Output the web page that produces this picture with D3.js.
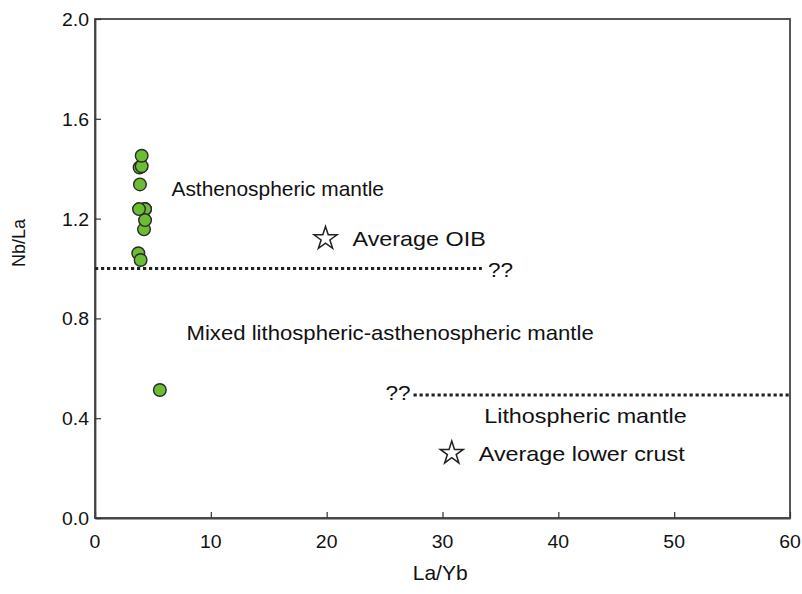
<!DOCTYPE html>
<html>
<head>
<meta charset="utf-8">
<script src="https://cdn.jsdelivr.net/npm/d3@7"></script>
<style>
  html, body { margin: 0; padding: 0; background: #fff; }
  svg { display: block; }
  text { font-family: "Liberation Sans", Arial, Helvetica, sans-serif; fill: #111; }
</style>
</head>
<body>
<svg id="chart" width="802" height="594"></svg>
<script>
// Sample ratios (La/Yb vs Nb/La)
const sampleLaYb = [4.23, 3.74, 4.32, 3.85, 4.03, 4.03, 3.88, 4.32, 3.8, 4.32, 3.94, 5.6];
const sampleNbLa = [1.157, 1.061, 1.238, 1.405, 1.41, 1.452, 1.337, 1.238, 1.238, 1.194, 1.034, 0.513];

// Reference compositions
const refNames = ["Average OIB", "Average lower crust"];
const refLaYb = [19.9, 30.8];
const refNbLa = [1.12, 0.26];

// Field boundaries (dotted), with uncertain ends marked "??"
const boundaryNbLa = [1.0, 0.493];
const boundaryFrom = [0, 27.5];
const boundaryTo = [33.4, 60];

// Field names and their anchor positions in data units
const fieldNames = ["Asthenospheric mantle", "Mixed lithospheric-asthenospheric mantle", "Lithospheric mantle"];
const fieldX = [6.6, 7.9, 33.6];
const fieldY = [1.32, 0.745, 0.41];

// Axis ticks
const xTicks = [0, 10, 20, 30, 40, 50, 60];
const yTicks = [0, 0.4, 0.8, 1.2, 1.6, 2.0];

const svg = d3.select("#chart");
const m = { left: 95, right: 790, top: 19, bottom: 518 };
const x = d3.scaleLinear().domain([0, 60]).range([m.left, m.right]);
const y = d3.scaleLinear().domain([0, 2]).range([m.bottom, m.top]);

// Text drawn slightly widened
function label(g, px, py, str, size, sx, anchor) {
  return g.append("text")
    .attr("transform", `translate(${px},${py}) scale(${sx},1)`)
    .attr("text-anchor", anchor || "start")
    .style("font-size", size + "px")
    .text(str);
}

// Frame
svg.append("rect")
  .attr("x", m.left).attr("y", m.top)
  .attr("width", m.right - m.left).attr("height", m.bottom - m.top)
  .attr("fill", "none").attr("stroke", "#444").attr("stroke-width", 1.8);

// Axes with inward ticks
const xAxis = svg.append("g").attr("transform", `translate(0,${m.bottom})`)
  .call(d3.axisBottom(x).tickValues(xTicks).tickSizeInner(-6).tickSizeOuter(0).tickFormat(""));
const yAxis = svg.append("g").attr("transform", `translate(${m.left},0)`)
  .call(d3.axisLeft(y).tickValues(yTicks).tickSizeInner(-6).tickSizeOuter(0).tickFormat(""));
[xAxis, yAxis].forEach(a => {
  a.select(".domain").attr("stroke", "#444").attr("stroke-width", 1.8);
  a.selectAll(".tick line").attr("stroke", "#333").attr("stroke-width", 1.2);
});

// Tick labels
const tl = svg.append("g");
xTicks.forEach(v => label(tl, x(v), 548, d3.format("d")(v), 18.5, 1.05, "middle"));
yTicks.forEach(v => label(tl, 89, y(v) + 7, d3.format(".1f")(v), 18.5, 1.05, "end"));

// Axis titles
label(svg, x(29.8), 580, "La/Yb", 20, 1.05, "middle");
svg.append("text")
  .attr("transform", `translate(25,243) rotate(-90)`)
  .attr("text-anchor", "middle")
  .style("font-size", "18px")
  .text("Nb/La");

// Dotted boundaries
svg.append("g").selectAll("line").data(boundaryNbLa).join("line")
  .attr("x1", (d, i) => x(boundaryFrom[i]))
  .attr("x2", (d, i) => x(boundaryTo[i]))
  .attr("y1", d => y(d)).attr("y2", d => y(d))
  .attr("stroke", "#222").attr("stroke-width", 3.2)
  .attr("stroke-dasharray", "3.2,2.8");

const ann = svg.append("g");
label(ann, x(boundaryTo[0]) + 6, y(boundaryNbLa[0]) + 8, "??", 20.5, 1.1);
label(ann, x(boundaryFrom[1]) - 3, y(boundaryNbLa[1]) + 5, "??", 20.5, 1.1, "end");

// Field names
fieldNames.forEach((t, i) => label(ann, x(fieldX[i]), y(fieldY[i]) + 7.5, t, 20.5, [1.02, 1.08, 1.14][i]));

// Reference stars
const star = d3.symbol().type(d3.symbolStar).size(165);
svg.append("g").selectAll("path").data(refNbLa).join("path")
  .attr("d", star)
  .attr("transform", (d, i) => `translate(${x(refLaYb[i])},${y(d)})`)
  .attr("fill", "#fff").attr("stroke", "#222").attr("stroke-width", 1.5)
  .attr("stroke-linejoin", "miter");
refNames.forEach((t, i) => label(ann, x(refLaYb[i]) + 27, y(refNbLa[i]) + 7.5, t, 20.5, 1.14));

// Samples
svg.append("g").selectAll("circle").data(sampleNbLa).join("circle")
  .attr("cx", (d, i) => x(sampleLaYb[i]))
  .attr("cy", d => y(d))
  .attr("r", 6.3)
  .attr("fill", "#6cbd34")
  .attr("stroke", "#2a2a2a")
  .attr("stroke-width", 1.4);
</script>
</body>
</html>
